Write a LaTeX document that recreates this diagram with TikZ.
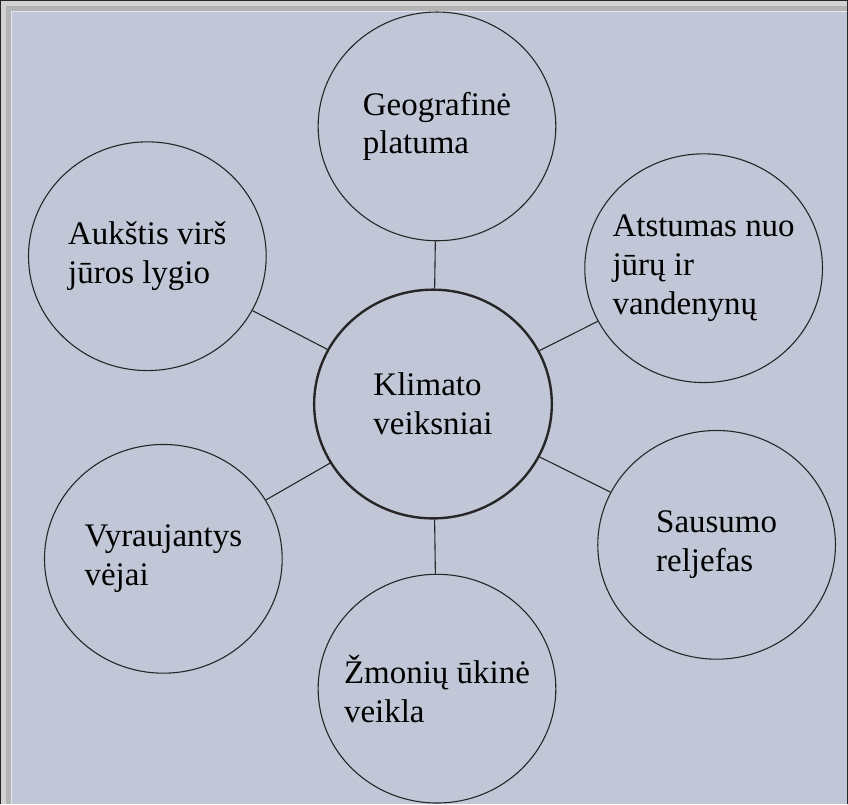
\documentclass[tikz,border=0pt]{standalone}
\usepackage{fontspec}
\setmainfont{Liberation Serif}
\newfontfamily\labelfont{Liberation Serif}
\usepackage{tikz}
\usetikzlibrary{shapes.geometric}
\definecolor{panel}{HTML}{C1C7D7}
\definecolor{panelEdge}{HTML}{E4E8F4}
\definecolor{shadowOut}{HTML}{D2D2D2}
\definecolor{shadowIn}{HTML}{B4B4B4}
\definecolor{ink}{HTML}{262626}

\begin{document}
\begin{tikzpicture}[x=1pt,y=-1pt,
    every node/.style={ellipse,draw=ink,line width=1.1pt,minimum width=238pt,minimum height=229pt,
      inner xsep=-40pt,inner ysep=0pt,align=left,text=black,font=\labelfont\fontsize{33}{39}\selectfont},
    every path/.style={draw=ink,line width=1.1pt}]
        \useasboundingbox (0,0) rectangle (848,804);
        \fill[shadowOut,draw=none] (0,0) rectangle (848,804);
        \fill[shadowIn,draw=none] (5,5) rectangle (848,804);
        \fill[panelEdge,draw=none] (10,10) rectangle (848,804);
        \fill[panel,draw=none] (11.5,11.5) rectangle (848,804);

        \node[line width=2.4pt] (klimatas) at (433,404) {Klimato\\veiksniai};
        \node (platuma) at (437,126) {Geografinė\\platuma};
        \node (aukstis) at (147,256) {Aukštis virš\\jūros lygio};
        \node (atstumas) at (704,268) {Atstumas nuo\\jūrų ir\\vandenynų};
        \node (vejai) at (163,559) {Vyraujantys\\vėjai};
        \node (reljefas) at (717,545) {Sausumo\\reljefas};
        \node (veikla) at (437,689) {Žmonių ūkinė\\veikla};

        \draw (klimatas) -- (platuma);
        \draw (klimatas) -- (aukstis);
        \draw (klimatas) -- (atstumas);
        \draw (klimatas) -- (vejai);
        \draw (klimatas) -- (reljefas);
        \draw (klimatas) -- (veikla);
\end{tikzpicture}
\end{document}
